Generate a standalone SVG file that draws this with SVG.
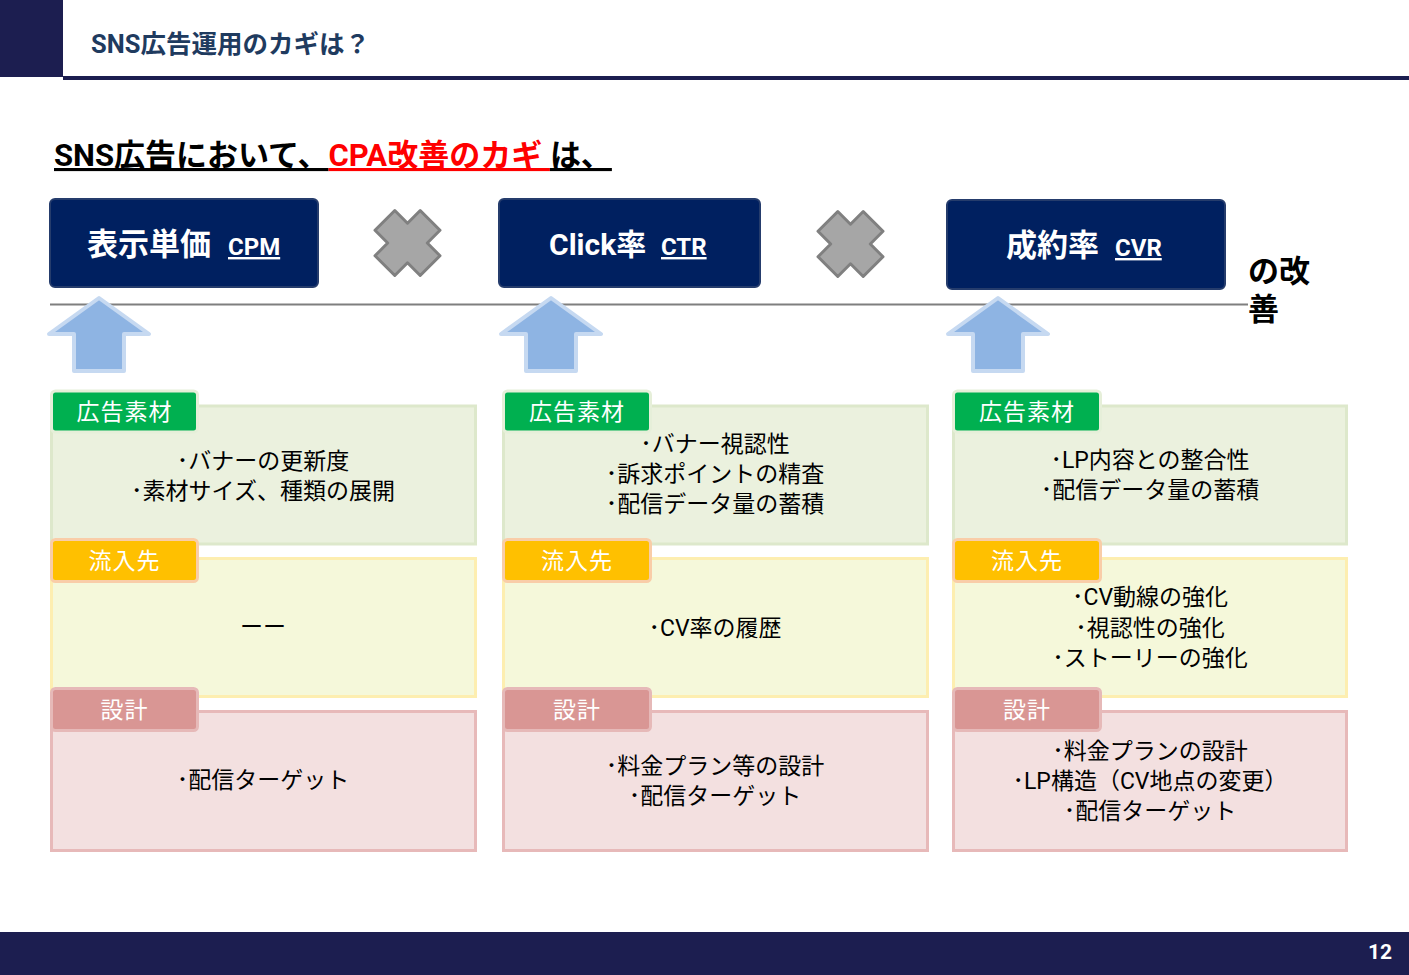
<svg xmlns="http://www.w3.org/2000/svg" width="1409" height="975" viewBox="0 0 1409 975">
<defs>
<style>
.t{font-family:Roboto,"Noto Sans CJK JP",sans-serif}
.navy{fill:#1c1e50}
.hbox{fill:#002060;stroke:#253c6c;stroke-width:2}
.hb{font-family:Roboto,"Noto Sans CJK JP",sans-serif;font-weight:bold;fill:#fff}
.xm{fill:#a6a6a6;stroke:#808080;stroke-width:3;stroke-linejoin:round}
.ar{fill:#8eb4e3;stroke:#c6d9f1;stroke-width:4;stroke-linejoin:round}
.b1{fill:#ebf1de;stroke:#dde8cb;stroke-width:3}
.t1{fill:#00b050;stroke:#e6efd9;stroke-width:3}
.b2{fill:#f5f8da;stroke:#fdeeb0;stroke-width:3}
.t2{fill:#ffc000;stroke:#f9cda8;stroke-width:3}
.b3{fill:#f3e0e0;stroke:#e7b9b9;stroke-width:3}
.t3{fill:#d99694;stroke:#e6b9b8;stroke-width:3}
.tab{font-family:Roboto,"Noto Sans CJK JP",sans-serif;font-size:23px;fill:#fff;text-anchor:middle;letter-spacing:1px}
.bt{font-family:Roboto,"Noto Sans CJK JP",sans-serif;font-size:23px;fill:#000;text-anchor:middle}
</style>
</defs>
<rect width="1409" height="975" fill="#fff"/>
<g id="header">
<rect class="navy" x="0" y="0" width="63" height="77"/>
<rect class="navy" x="63" y="76" width="1346" height="4"/>
<text class="t" x="91" y="53" font-size="25.5" font-weight="bold" fill="#1f3b5f">SNS広告運用のカギは？</text>
</g>
<g id="footer">
<rect class="navy" x="0" y="932" width="1409" height="43"/>
<text class="t" x="1392" y="959" font-size="21" font-weight="bold" fill="#fff" text-anchor="end">12</text>
</g>
<g id="subtitle">
<text class="t" x="54" y="166" font-size="31" font-weight="bold"><tspan fill="#000" text-decoration="underline">SNS広告において、</tspan><tspan fill="#ff0000" text-decoration="underline">CPA改善のカギ </tspan><tspan fill="#000" text-decoration="underline">は、</tspan></text>
</g>
<g id="connectors">
<line x1="50" y1="304.5" x2="1248" y2="304.5" stroke="#7f7f7f" stroke-width="2"/>
</g>
<g id="kaizen">
<text class="t" x="1248" y="282" font-size="31" font-weight="bold" fill="#000">の改</text>
<text class="t" x="1248" y="320" font-size="31" font-weight="bold" fill="#000">善</text>
</g>
<g id="box-cpm">
<rect class="hbox" x="50" y="199" width="268" height="88" rx="5"/>
<text class="hb" x="87" y="255" font-size="31">表示単価</text>
<text class="hb" x="228" y="255" font-size="24" text-decoration="underline">CPM</text>
</g>
<g id="box-ctr">
<rect class="hbox" x="499" y="199" width="261" height="88" rx="5"/>
<text class="hb" x="549" y="255" font-size="30">Click率</text>
<text class="hb" x="661" y="255" font-size="24" text-decoration="underline">CTR</text>
</g>
<g id="box-cvr">
<rect class="hbox" x="947" y="200" width="278" height="89" rx="5"/>
<text class="hb" x="1006" y="256" font-size="31">成約率</text>
<text class="hb" x="1115" y="256" font-size="24" text-decoration="underline">CVR</text>
</g>
<g id="x1"><polygon class="xm" transform="translate(407.5,243)" points="12.7,-32.5 32.5,-12.7 19.8,0 32.5,12.7 12.7,32.5 0,19.8 -12.7,32.5 -32.5,12.7 -19.8,0 -32.5,-12.7 -12.7,-32.5 0,-19.8"/></g>
<g id="x2"><polygon class="xm" transform="translate(850.5,244)" points="12.7,-32.5 32.5,-12.7 19.8,0 32.5,12.7 12.7,32.5 0,19.8 -12.7,32.5 -32.5,12.7 -19.8,0 -32.5,-12.7 -12.7,-32.5 0,-19.8"/></g>
<g id="arrow1"><polygon class="ar" transform="translate(99,0)" points="0,298 50,334 25,334 25,371 -25,371 -25,334 -50,334"/></g>
<g id="arrow2"><polygon class="ar" transform="translate(551,0)" points="0,298 50,334 25,334 25,371 -25,371 -25,334 -50,334"/></g>
<g id="arrow3"><polygon class="ar" transform="translate(998,0)" points="0,298 50,334 25,334 25,371 -25,371 -25,334 -50,334"/></g>
<g id="c1-r1">
<rect class="b1" x="51.5" y="406" width="424" height="138"/>
<rect class="t1" x="51.5" y="391" width="146" height="41" rx="4"/>
<text class="tab" x="124.5" y="420">広告素材</text>
<text class="bt" x="263" y="469">･バナーの更新度</text>
<text class="bt" x="263" y="499">･素材サイズ、種類の展開</text>
</g>
<g id="c1-r2">
<rect class="b2" x="51.5" y="558.5" width="424" height="138"/>
<rect class="t2" x="51.5" y="539.5" width="146" height="42" rx="4"/>
<text class="tab" x="124.5" y="569">流入先</text>
<text class="bt" x="263" y="635">ーー</text>
</g>
<g id="c1-r3">
<rect class="b3" x="51.5" y="711.5" width="424" height="139"/>
<rect class="t3" x="51.5" y="688.5" width="146" height="42" rx="4"/>
<text class="tab" x="124.5" y="718">設計</text>
<text class="bt" x="263" y="788">･配信ターゲット</text>
</g>
<g id="c2-r1">
<rect class="b1" x="503.5" y="406" width="424" height="138"/>
<rect class="t1" x="503.5" y="391" width="147" height="41" rx="4"/>
<text class="tab" x="577" y="420">広告素材</text>
<text class="bt" x="715" y="452">･バナー視認性</text>
<text class="bt" x="715" y="482">･訴求ポイントの精査</text>
<text class="bt" x="715" y="512">･配信データ量の蓄積</text>
</g>
<g id="c2-r2">
<rect class="b2" x="503.5" y="558.5" width="424" height="138"/>
<rect class="t2" x="503.5" y="539.5" width="147" height="42" rx="4"/>
<text class="tab" x="577" y="569">流入先</text>
<text class="bt" x="715" y="636">･CV率の履歴</text>
</g>
<g id="c2-r3">
<rect class="b3" x="503.5" y="711.5" width="424" height="139"/>
<rect class="t3" x="503.5" y="688.5" width="147" height="42" rx="4"/>
<text class="tab" x="577" y="718">設計</text>
<text class="bt" x="715" y="774">･料金プラン等の設計</text>
<text class="bt" x="715" y="804">･配信ターゲット</text>
</g>
<g id="c3-r1">
<rect class="b1" x="953.5" y="406" width="393" height="138"/>
<rect class="t1" x="953.5" y="391" width="147" height="41" rx="4"/>
<text class="tab" x="1027" y="420">広告素材</text>
<text class="bt" x="1150" y="468">･LP内容との整合性</text>
<text class="bt" x="1150" y="498">･配信データ量の蓄積</text>
</g>
<g id="c3-r2">
<rect class="b2" x="953.5" y="558.5" width="393" height="138"/>
<rect class="t2" x="953.5" y="539.5" width="147" height="42" rx="4"/>
<text class="tab" x="1027" y="569">流入先</text>
<text class="bt" x="1150" y="605">･CV動線の強化</text>
<text class="bt" x="1150" y="636">･視認性の強化</text>
<text class="bt" x="1150" y="666">･ストーリーの強化</text>
</g>
<g id="c3-r3">
<rect class="b3" x="953.5" y="711.5" width="393" height="139"/>
<rect class="t3" x="953.5" y="688.5" width="147" height="42" rx="4"/>
<text class="tab" x="1027" y="718">設計</text>
<text class="bt" x="1150" y="759">･料金プランの設計</text>
<text class="bt" x="1150" y="789">･LP構造（CV地点の変更）</text>
<text class="bt" x="1150" y="819">･配信ターゲット</text>
</g>
</svg>
